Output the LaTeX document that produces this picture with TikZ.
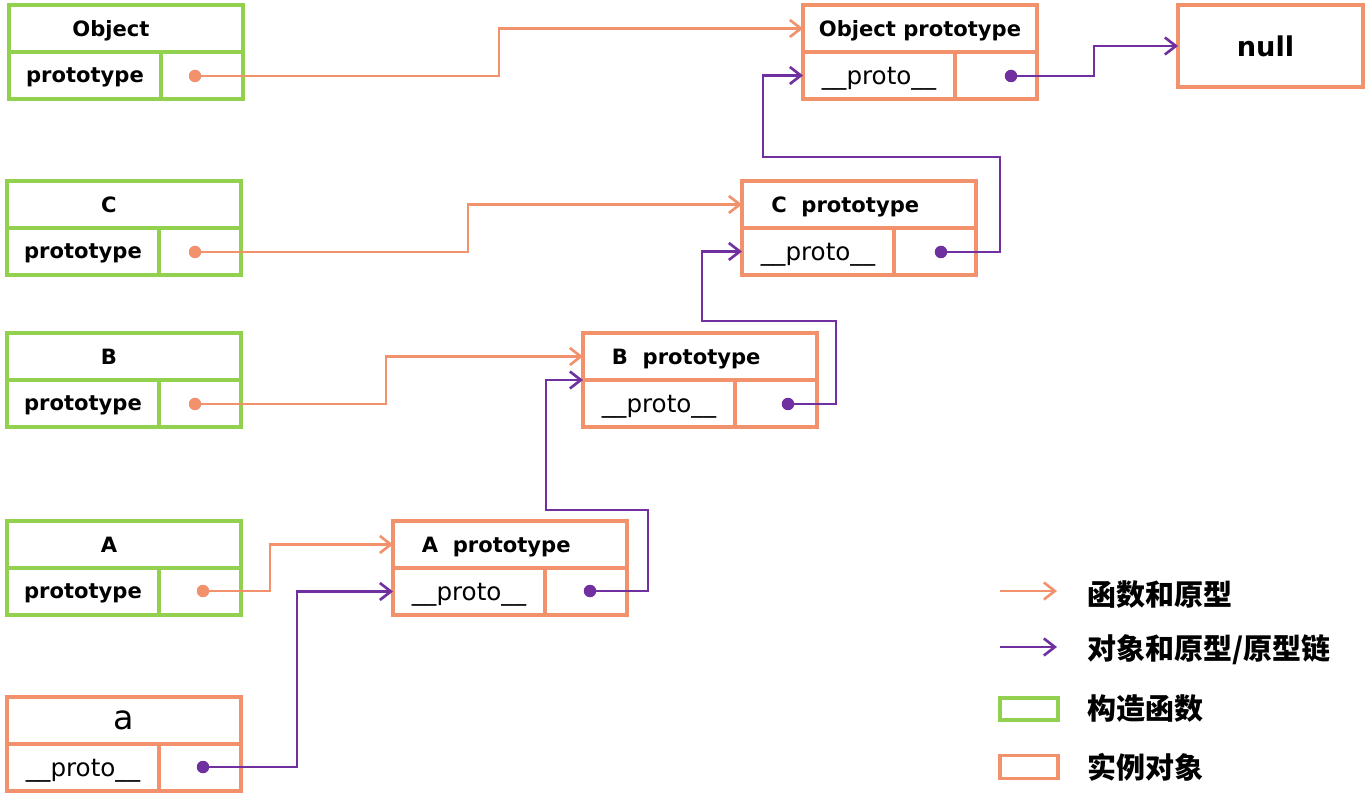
\documentclass[tikz,border=0pt]{standalone}
\usepackage{fontspec}
\setmainfont{DejaVu Sans}
\newfontfamily\cjk{Noto Sans CJK SC}
\usetikzlibrary{arrows.meta, positioning}
\definecolor{ctorgreen}{RGB}{146,208,80}
\definecolor{instorange}{RGB}{241,146,108}
\definecolor{chainpurple}{RGB}{112,48,160}
\tikzstyle{cell} = [rectangle, line width=1.8pt, inner sep=0pt, outer sep=0pt, text depth=0pt, anchor=north west]
\tikzstyle{titlecell} = [cell, minimum width=4.68cm, minimum height=0.94cm, font=\bfseries\fontsize{12}{14}\selectfont]
\tikzstyle{leftcell} = [cell, minimum width=3.04cm, minimum height=0.94cm, font=\bfseries\fontsize{12}{14}\selectfont]
\tikzstyle{protocell} = [cell, minimum width=3.04cm, minimum height=0.94cm, font=\fontsize{14}{16}\selectfont]
\tikzstyle{rightcell} = [cell, minimum width=1.64cm, minimum height=0.94cm]
\tikzstyle{dot} = [circle, inner sep=0pt, minimum size=0.25cm]
\tikzstyle{fnarrow} = [draw=instorange, line width=1.5pt, -{Straight Barb[length=0.22cm, width=0.34cm]}]
\tikzstyle{chainarrow} = [draw=chainpurple, line width=1.5pt, -{Straight Barb[length=0.22cm, width=0.34cm]}]
\tikzstyle{legtext} = [anchor=west, inner sep=0pt, font=\cjk\bfseries\fontsize{16.5}{19}\selectfont]

\begin{document}
\begin{tikzpicture}[x=0.02cm, y=-0.02cm]
        \useasboundingbox (0,0) rectangle (1366,793);

        % constructors
        \foreach \nm/\x/\y/\ttl in {Obj/9/5/Object, C/7/181/C, B/7/333/B, A/7/521/A}
        {
            \node[titlecell, draw=ctorgreen] (\nm T) at (\x,\y) {\ttl\hspace*{0.6cm}};
            \node[leftcell, draw=ctorgreen] (\nm L) at (\nm T.south west) {prototype};
            \node[rightcell, draw=ctorgreen] (\nm R) at (\nm L.north east) {};
        }

        % prototypes
        \foreach \nm/\x/\y/\ttl/\pad in {ObjProto/803/5/Object prototype/0, CProto/742/181/C~~prototype/0.55, BProto/583/333/B~~prototype/0.55, AProto/393/521/A~~prototype/0.55}
        {
            \node[titlecell, draw=instorange] (\nm T) at (\x,\y) {\ttl\hspace*{\pad cm}};
            \node[protocell, draw=instorange] (\nm L) at (\nm T.south west) {\_\_proto\_\_};
            \node[rightcell, draw=instorange] (\nm R) at (\nm L.north east) {};
        }

        % instance a
        \node[titlecell, draw=instorange, font=\fontsize{19}{22}\selectfont] (instT) at (7,697) {a};
        \node[protocell, draw=instorange] (instL) at (instT.south west) {\_\_proto\_\_};
        \node[rightcell, draw=instorange] (instR) at (instL.north east) {};

        \node[rectangle, draw=instorange, line width=1.8pt, outer sep=0pt, minimum width=3.7cm, minimum height=1.64cm, font=\bfseries\fontsize{15.5}{18}\selectfont] (null) at (1270.5,46) {null\hspace*{0.2cm}};

        % dots
        \node[dot, fill=instorange] (ObjDot) at (195,76) {};
        \node[dot, fill=instorange] (CDot) at (195,252) {};
        \node[dot, fill=instorange] (BDot) at (195,404) {};
        \node[dot, fill=instorange] (ADot) at (203,591) {};
        \node[dot, fill=chainpurple] (instDot) at (203,767) {};
        \node[dot, fill=chainpurple] (AProtoDot) at (590,591) {};
        \node[dot, fill=chainpurple] (BProtoDot) at (788,404) {};
        \node[dot, fill=chainpurple] (CProtoDot) at (941,252) {};
        \node[dot, fill=chainpurple] (ObjProtoDot) at (1011,76) {};

        \draw[fnarrow] (ObjDot.center) -- ++(304,0) |- (ObjProtoT.west);
        \draw[fnarrow] (CDot.center) -- ++(273,0) |- (CProtoT.west);
        \draw[fnarrow] (BDot.center) -- ++(191,0) |- (BProtoT.west);
        \draw[fnarrow] (ADot.center) -- ++(67,0) |- (AProtoT.west);

        \draw[chainarrow] (instDot.center) -- ++(94,0) |- (AProtoL.west);
        \draw[chainarrow] (AProtoDot.center) -- ++(58,0) |- ++(-102,-81) |- (BProtoT.south west);
        \draw[chainarrow] (BProtoDot.center) -- ++(48,0) |- ++(-134,-83) |- (CProtoL.west);
        \draw[chainarrow] (CProtoDot.center) -- ++(59,0) |- ++(-237,-95) |- (ObjProtoL.west);
        \draw[chainarrow] (ObjProtoDot.center) -- ++(83,0) |- (null.west);

        % legend
        \coordinate (legFnS) at (1000,591);
        \coordinate (legFnE) at (1057,591);
        \coordinate (legChainS) at (1000,647);
        \coordinate (legChainE) at (1057,647);
        \draw[fnarrow] (legFnS) -- (legFnE);
        \draw[chainarrow] (legChainS) -- (legChainE);
        \node[rectangle, draw=ctorgreen, line width=1.8pt, minimum width=1.16cm, minimum height=0.44cm] (legCtor) at (1029,709) {};
        \node[rectangle, draw=instorange, line width=1.8pt, minimum width=1.16cm, minimum height=0.46cm] (legInst) at (1029,767) {};
        \node[legtext] (legFn) at (1087,595) {函数和原型};
        \node[legtext] (legChain) at (1087,650) {对象和原型/原型链};
        \node[legtext] (legCtorText) at (1087,709) {构造函数};
        \node[legtext] (legInstText) at (1087,767) {实例对象};
\end{tikzpicture}
\end{document}
